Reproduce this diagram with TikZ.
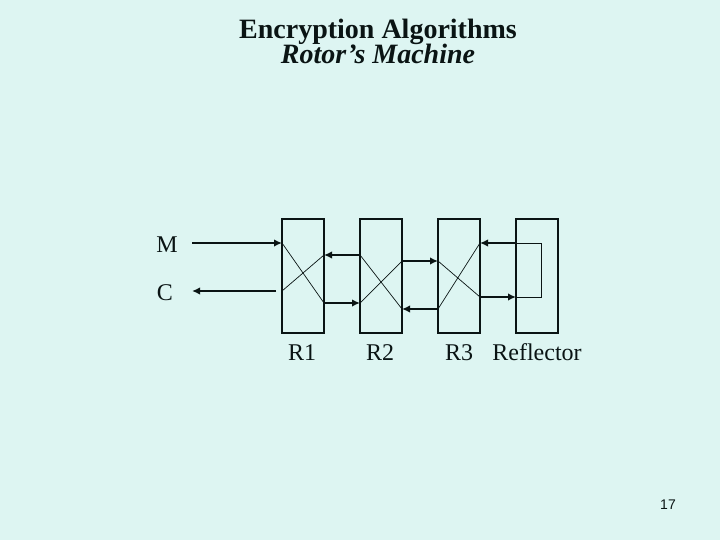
\documentclass[tikz,border=0pt]{standalone}
\usepackage{fontspec}
\setmainfont{Liberation Serif}
\newfontfamily\slidesans{Liberation Sans}
\usetikzlibrary{arrows.meta}
\definecolor{slidebg}{RGB}{221,245,242}
\definecolor{ink}{RGB}{10,20,20}
\tikzset{
  rotorbox/.style={draw=ink,line width=1.6pt,fill=none,minimum width=42pt,minimum height=114pt,inner sep=0pt,outer sep=0pt},
  flow/.style={draw=ink,line width=1.6pt,-{Latex[length=8pt,width=7.5pt]}},
  wire/.style={draw=ink,line width=0.7pt},
  lbl/.style={text=ink,font=\fontsize{24pt}{24pt}\selectfont,inner sep=0pt,anchor=base},
}
\begin{document}
\begin{tikzpicture}[x=1pt,y=-1pt]
\useasboundingbox (0,0) rectangle (720,540);
\fill[slidebg] (0,0) rectangle (720,540);
% titles
\node[text=ink,font=\fontsize{28pt}{28pt}\selectfont\bfseries,inner sep=0pt,anchor=base] (title) at (378,39) {Encryption Algorithms};
\node[text=ink,font=\fontsize{28pt}{28pt}\selectfont\bfseries\itshape,inner sep=0pt,anchor=base] (subtitle) at (378,64) {Rotor’s Machine};
% rotors
\node[rotorbox] (r1) at (303,276) {};
\node[rotorbox] (r2) at (381,276) {};
\node[rotorbox] (r3) at (459,276) {};
\node[rotorbox] (rf) at (537,276) {};
% free ends and contact points
\coordinate (min) at (192,243);
\coordinate (cout) at (192,291);
\coordinate (cin) at (276,291);
\coordinate (a1) at (282,243);
\coordinate (a2) at (282,291);
\coordinate (b1) at (324,255);
\coordinate (b2) at (324,303);
\coordinate (c1) at (360,255);
\coordinate (c2) at (360,303);
\coordinate (d1) at (402,261);
\coordinate (d2) at (402,309);
\coordinate (e1) at (438,261);
\coordinate (e2) at (438,309);
\coordinate (f1) at (480,243);
\coordinate (f2) at (480,297);
\coordinate (g1) at (516,243);
\coordinate (g2) at (516,297);
\coordinate (h1) at (541,243);
\coordinate (h2) at (541,297);
% internal wiring
\draw[wire] (a1) -- (b2);
\draw[wire] (a2) -- (b1);
\draw[wire] (c1) -- (d2);
\draw[wire] (c2) -- (d1);
\draw[wire] (e1) -- (f2);
\draw[wire] (e2) -- (f1);
\draw[wire] (g1) -- (h1) -- (h2) -- (g2);
% arrows
\draw[flow] (min) -- (a1);
\draw[flow] (cin) -- (cout);
\draw[flow] (c1) -- (b1);
\draw[flow] (b2) -- (c2);
\draw[flow] (d1) -- (e1);
\draw[flow] (e2) -- (d2);
\draw[flow] (g1) -- (f1);
\draw[flow] (f2) -- (g2);
% labels
\node[lbl] (lm) at (167,252) {M};
\node[lbl] (lc) at (165,300) {C};
\node[lbl] (l1) at (302,360) {R1};
\node[lbl] (l2) at (380,360) {R2};
\node[lbl] (l3) at (459,360) {R3};
\node[lbl] (l4) at (537,360) {Reflector};
\node[text=ink,font=\slidesans\fontsize{14pt}{14pt}\selectfont,inner sep=0pt,anchor=base] (pg) at (668,509) {17};
\end{tikzpicture}
\end{document}
